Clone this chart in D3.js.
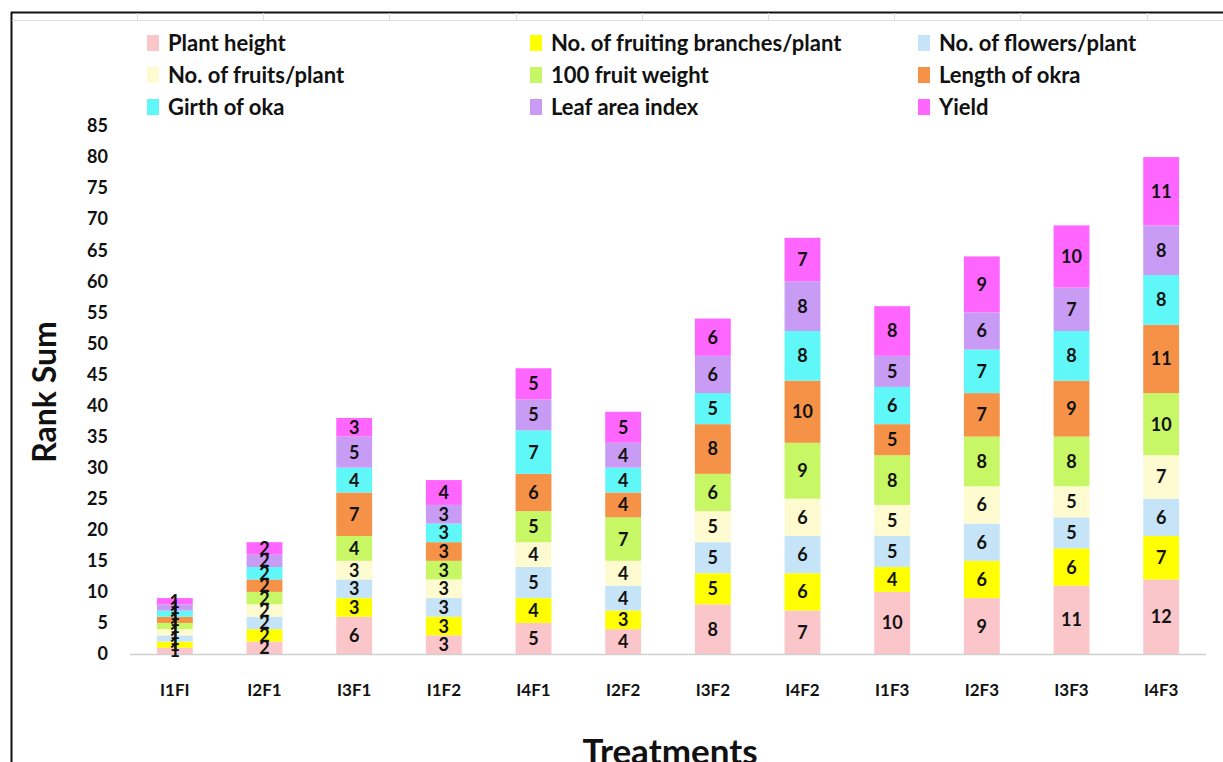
<!DOCTYPE html>
<html>
<head>
<meta charset="utf-8">
<script src="https://cdn.jsdelivr.net/npm/d3@7"></script>
<style>
  html, body { margin: 0; padding: 0; background: #fff; }
  svg { display: block; font-family: Lato, "Open Sans", "Liberation Sans", sans-serif; }
</style>
</head>
<body>
<svg id="chart" width="1223" height="762"></svg>
<script>
// Treatments on the x axis
const treatments = ["I1FI", "I2F1", "I3F1", "I1F2", "I4F1", "I2F2", "I3F2", "I4F2", "I1F3", "I2F3", "I3F3", "I4F3"];

// Rank of each treatment for every trait (stacked bottom to top)
const plantHeight      = [1, 2, 6, 3, 5, 4, 8, 7, 10, 9, 11, 12];
const fruitingBranches = [1, 2, 3, 3, 4, 3, 5, 6, 4, 6, 6, 7];
const flowersPerPlant  = [1, 2, 3, 3, 5, 4, 5, 6, 5, 6, 5, 6];
const fruitsPerPlant   = [1, 2, 3, 3, 4, 4, 5, 6, 5, 6, 5, 7];
const fruitWeight100   = [1, 2, 4, 3, 5, 7, 6, 9, 8, 8, 8, 10];
const lengthOfOkra     = [1, 2, 7, 3, 6, 4, 8, 10, 5, 7, 9, 11];
const girthOfOkra      = [1, 2, 4, 3, 7, 4, 5, 8, 6, 7, 8, 8];
const leafAreaIndex    = [1, 2, 5, 3, 5, 4, 6, 8, 5, 6, 7, 8];
const yieldRank        = [1, 2, 3, 4, 5, 5, 6, 7, 8, 9, 10, 11];

const seriesNames = ["Plant height", "No. of fruiting branches/plant", "No. of flowers/plant",
  "No. of fruits/plant", "100 fruit weight", "Length of okra", "Girth of oka", "Leaf area index", "Yield"];
const seriesValues = [plantHeight, fruitingBranches, flowersPerPlant, fruitsPerPlant,
  fruitWeight100, lengthOfOkra, girthOfOkra, leafAreaIndex, yieldRank];
const seriesColors = ["#FBC6CA", "#FFFF00", "#C6E4F7", "#FDFBCF", "#C8F766", "#F59248", "#5FF7F7", "#C89CF4", "#FF66FF"];

const yTicks = d3.range(0, 86, 5);

const svg = d3.select("#chart");

// Sheet frame and cell borders
svg.append("line").attr("x1", 11).attr("x2", 1223).attr("y1", 12.5).attr("y2", 12.5)
  .attr("stroke", "#111").attr("stroke-width", 2);
svg.append("line").attr("x1", 11.5).attr("x2", 11.5).attr("y1", 12).attr("y2", 762)
  .attr("stroke", "#111").attr("stroke-width", 2);
svg.append("line").attr("x1", 12).attr("x2", 1223).attr("y1", 20.5).attr("y2", 20.5)
  .attr("stroke", "#ddd").attr("stroke-width", 1);
d3.range(137, 1223, 126.2).forEach(x => {
  svg.append("line").attr("x1", Math.round(x) + 0.5).attr("x2", Math.round(x) + 0.5)
    .attr("y1", 13).attr("y2", 20).attr("stroke", "#ddd");
});

// Scales
const x = d3.scaleBand().domain(treatments).range([130, 1206]).paddingInner(0.6).paddingOuter(0.3);
const y = d3.scaleLinear().domain([0, 85]).range([654, 126]);

// Stack data
const rows = treatments.map((t, i) => {
  const r = { treatment: t };
  seriesNames.forEach((n, k) => { r[n] = seriesValues[k][i]; });
  return r;
});
const stacked = d3.stack().keys(seriesNames)(rows);

// Bars
const layers = svg.append("g").selectAll("g").data(stacked).join("g")
  .attr("fill", (d, k) => seriesColors[k]);
layers.selectAll("rect").data(d => d).join("rect")
  .attr("x", d => x(d.data.treatment))
  .attr("width", x.bandwidth())
  .attr("y", d => y(d[1]))
  .attr("height", d => y(d[0]) - y(d[1]));

// X axis line
svg.append("line").attr("x1", 130).attr("x2", 1206).attr("y1", y(0) + 0.5).attr("y2", y(0) + 0.5)
  .attr("stroke", "#d0d0d0").attr("stroke-width", 1.5);

// Segment value labels
const labels = svg.append("g");
stacked.forEach(layer => {
  labels.selectAll(null).data(layer).join("text")
    .attr("x", d => x(d.data.treatment) + x.bandwidth() / 2)
    .attr("y", d => (y(d[0]) + y(d[1])) / 2)
    .attr("dy", "0.36em")
    .attr("text-anchor", "middle")
    .attr("font-size", 18)
    .attr("font-weight", 700)
    .attr("fill", "#111")
    .text(d => d[1] - d[0]);
});

// Y axis
const yAxis = svg.append("g").attr("transform", "translate(108,0)")
  .call(d3.axisLeft(y).tickValues(yTicks).tickSize(0).tickPadding(0));
yAxis.select(".domain").remove();
yAxis.selectAll("text").attr("font-size", 18).attr("font-weight", 700).attr("fill", "#111")
  .attr("font-family", "Lato, 'Open Sans', sans-serif");

// X axis labels
const xAxis = svg.append("g").attr("transform", `translate(0,${y(0)})`)
  .call(d3.axisBottom(x).tickSize(0).tickPadding(30));
xAxis.select(".domain").remove();
xAxis.selectAll("text").attr("font-size", 17).attr("font-weight", 700).attr("fill", "#111")
  .attr("font-family", "Lato, 'Open Sans', sans-serif");

// Axis titles
svg.append("text").attr("transform", "translate(56,392) rotate(-90)")
  .attr("text-anchor", "middle").attr("font-size", 32).attr("font-weight", 700).attr("fill", "#111")
  .text("Rank Sum");
svg.append("text").attr("x", 670).attr("y", 764)
  .attr("text-anchor", "middle").attr("font-size", 35).attr("font-weight", 700).attr("fill", "#111")
  .text("Treatments");

// Legend: three columns, three rows
const legendCols = [147, 530, 918];
const legendRows = [43, 75, 107];
const legend = svg.append("g");
seriesNames.forEach((name, k) => {
  const cx = legendCols[k % 3], cy = legendRows[Math.floor(k / 3)];
  legend.append("rect").attr("x", cx).attr("y", cy - 8).attr("width", 12).attr("height", 16)
    .attr("fill", seriesColors[k]);
  legend.append("text").attr("x", cx + 21).attr("y", cy).attr("dy", "0.35em")
    .attr("font-size", 22).attr("font-weight", 700).attr("fill", "#111")
    .text(name);
});
</script>
</body>
</html>
